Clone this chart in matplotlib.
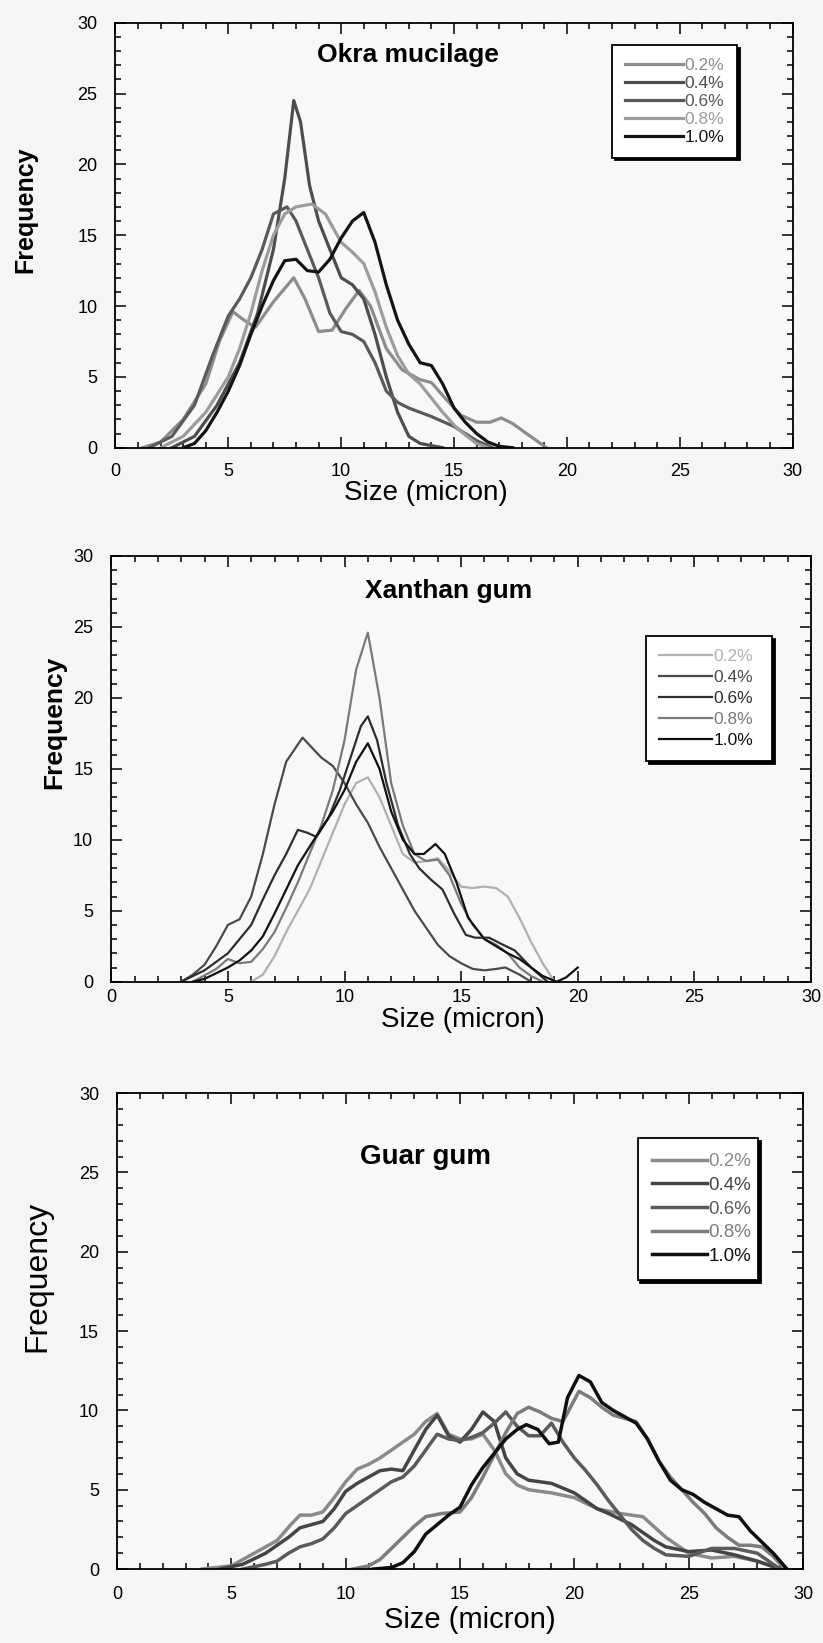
import matplotlib.pyplot as plt
from matplotlib.ticker import MultipleLocator

plt.rcParams['font.family'] = ['Liberation Sans', 'DejaVu Sans']

labels = ['0.2%', '0.4%', '0.6%', '0.8%', '1.0%']

# Okra mucilage
okra_x_02 = [1.2, 2.0, 3.0, 4.0, 4.6, 5.2, 5.7, 6.2, 7.0, 7.9, 8.4, 9.0, 9.6, 10.2, 10.8, 11.3, 12.0, 12.7, 13.5, 14.0, 14.6, 15.3, 16.0, 16.6, 17.1, 17.6, 18.3, 19.1]
okra_y_02 = [0.0, 0.4, 2.0, 4.5, 7.5, 9.6, 9.0, 8.5, 10.3, 12.0, 10.5, 8.2, 8.3, 9.8, 11.1, 10.0, 7.0, 5.5, 4.8, 4.6, 3.5, 2.3, 1.8, 1.8, 2.1, 1.7, 0.9, 0.0]
okra_x_04 = [2.5, 3.5, 4.5, 5.5, 6.3, 7.0, 7.5, 7.9, 8.2, 8.6, 9.0, 9.5, 10.0, 10.5, 11.0, 11.5, 12.0, 12.5, 13.0, 13.5, 14.5]
okra_y_04 = [0.0, 0.8, 3.0, 6.0, 9.5, 14.0, 19.0, 24.5, 23.0, 18.5, 16.0, 14.0, 12.0, 11.5, 10.5, 8.0, 5.0, 2.5, 0.8, 0.3, 0.0]
okra_x_06 = [1.5, 2.5, 3.5, 4.3, 5.0, 5.5, 6.0, 6.5, 7.0, 7.6, 8.0, 8.5, 9.0, 9.5, 10.0, 10.5, 11.0, 11.5, 12.0, 12.5, 13.0, 14.0, 15.0, 16.0, 16.7]
okra_y_06 = [0.0, 0.8, 3.0, 6.5, 9.3, 10.5, 12.0, 14.0, 16.5, 17.0, 16.0, 14.0, 12.0, 9.5, 8.2, 8.0, 7.5, 6.0, 4.0, 3.2, 2.8, 2.2, 1.5, 0.5, 0.0]
okra_x_08 = [2.0, 3.0, 4.0, 5.0, 5.5, 6.0, 6.5, 7.0, 7.5, 8.0, 8.7, 9.3, 10.0, 10.5, 11.0, 11.5, 12.0, 12.5, 13.0, 13.5, 14.0, 14.5, 15.0, 15.5, 16.0, 16.5]
okra_y_08 = [0.0, 0.8, 2.5, 5.0, 7.0, 9.5, 12.5, 15.0, 16.5, 17.0, 17.2, 16.5, 14.5, 13.8, 13.0, 11.0, 8.5, 6.5, 5.2, 4.5, 3.5, 2.5, 1.6, 0.9, 0.3, 0.0]
okra_x_10 = [3.0, 3.5, 4.0, 4.5, 5.0, 5.5, 6.0, 6.5, 7.0, 7.5, 8.0, 8.5, 9.0, 9.5, 10.0, 10.5, 11.0, 11.5, 12.0, 12.5, 13.0, 13.5, 14.0, 14.5, 15.0, 15.5, 16.0, 16.5, 17.0, 17.6]
okra_y_10 = [0.0, 0.3, 1.2, 2.5, 4.0, 5.8, 8.0, 10.0, 11.8, 13.2, 13.3, 12.5, 12.4, 13.3, 14.8, 16.0, 16.6, 14.5, 11.5, 9.0, 7.3, 6.0, 5.8, 4.5, 2.8, 1.8, 1.0, 0.4, 0.1, 0.0]

# Xanthan gum
xan_x_02 = [6.0, 6.5, 7.0, 7.5, 8.0, 8.5, 9.0, 9.5, 10.0, 10.5, 11.0, 11.5, 12.0, 12.5, 13.0, 13.5, 14.0, 14.5, 15.0, 15.5, 16.0, 16.5, 17.0, 17.5, 18.0, 18.5, 19.0]
xan_y_02 = [0.0, 0.5, 1.8, 3.5, 5.0, 6.5, 8.5, 10.5, 12.5, 14.0, 14.4, 13.0, 11.0, 9.0, 8.4, 8.5, 8.7, 7.8, 6.7, 6.6, 6.7, 6.6, 6.0, 4.5, 2.8, 1.3, 0.0]
xan_x_04 = [3.0, 3.5, 4.0, 4.5, 5.0, 5.5, 6.0, 6.5, 7.0, 7.5, 8.2, 8.6, 9.0, 9.5, 10.0, 10.5, 11.0, 11.5, 12.0, 12.5, 13.0, 13.5, 14.0, 14.5, 15.0, 15.5, 16.0, 16.5, 16.9, 17.5, 18.0]
xan_y_04 = [0.0, 0.5, 1.2, 2.5, 4.0, 4.4, 6.0, 9.0, 12.5, 15.5, 17.2, 16.5, 15.8, 15.2, 14.0, 12.5, 11.2, 9.5, 8.0, 6.5, 5.0, 3.8, 2.6, 1.8, 1.3, 0.9, 0.8, 0.9, 1.0, 0.5, 0.0]
xan_x_06 = [3.0, 4.0, 5.0, 6.0, 6.5, 7.0, 7.5, 8.0, 8.4, 8.8, 9.3, 9.8, 10.3, 10.7, 11.0, 11.4, 11.8, 12.3, 12.8, 13.2, 13.7, 14.2, 14.7, 15.2, 15.6, 16.2, 16.8, 17.3, 18.0, 18.7]
xan_y_06 = [0.0, 0.8, 2.0, 4.0, 5.8, 7.5, 9.0, 10.7, 10.5, 10.2, 11.5, 13.5, 16.0, 18.0, 18.7, 17.0, 14.0, 11.0, 9.0, 8.0, 7.2, 6.5, 4.8, 3.3, 3.1, 3.1, 2.6, 2.2, 1.0, 0.0]
xan_x_08 = [3.5, 4.5, 5.0, 5.5, 6.0, 6.5, 7.0, 7.5, 8.0, 8.5, 9.0, 9.5, 10.0, 10.5, 11.0, 11.5, 12.0, 12.5, 13.0, 13.5, 14.0, 14.5, 15.0, 15.5, 16.0, 16.5, 17.0, 17.5, 18.0, 18.5]
xan_y_08 = [0.0, 0.9, 1.6, 1.3, 1.4, 2.3, 3.5, 5.2, 7.0, 9.0, 11.0, 13.5, 17.0, 22.0, 24.6, 20.0, 14.0, 11.0, 9.0, 8.5, 8.6, 7.5, 5.5, 4.0, 3.0, 2.6, 2.0, 1.0, 0.4, 0.0]
xan_x_10 = [3.5, 4.0, 4.5, 5.0, 5.5, 6.0, 6.5, 7.0, 7.5, 8.0, 8.5, 9.0, 9.5, 10.0, 10.5, 11.0, 11.5, 12.0, 12.5, 13.0, 13.4, 13.9, 14.3, 14.8, 15.3, 16.0, 16.5, 17.0, 17.5, 18.0, 18.5, 19.1, 19.5, 20.0]
xan_y_10 = [0.0, 0.2, 0.6, 1.0, 1.5, 2.2, 3.2, 4.8, 6.5, 8.2, 9.5, 10.8, 12.0, 13.5, 15.5, 16.8, 15.0, 12.0, 10.0, 9.0, 9.0, 9.7, 9.0, 7.0, 4.5, 3.0, 2.5, 2.0, 1.6, 1.0, 0.4, 0.0, 0.3, 1.0]

# Guar gum
guar_x_02 = [3.7, 5.0, 6.0, 7.0, 7.6, 8.0, 8.5, 9.0, 9.5, 10.0, 10.5, 11.0, 11.5, 12.0, 12.5, 13.0, 13.5, 14.0, 14.5, 15.0, 15.5, 16.0, 16.5, 17.0, 17.5, 18.0, 19.0, 20.0, 21.0, 22.0, 23.0, 24.0, 25.0, 26.0, 27.0, 28.0, 29.0]
guar_y_02 = [0.0, 0.2, 1.0, 1.8, 2.8, 3.4, 3.4, 3.6, 4.5, 5.5, 6.3, 6.6, 7.0, 7.5, 8.0, 8.5, 9.3, 9.8, 8.5, 8.2, 8.2, 8.5, 7.5, 6.0, 5.3, 5.0, 4.8, 4.5, 3.8, 3.5, 3.3, 2.0, 1.0, 0.7, 0.8, 0.5, 0.0]
guar_x_04 = [4.5, 5.5, 6.5, 7.5, 8.0, 8.5, 9.0, 9.5, 10.0, 10.5, 11.0, 11.5, 12.0, 12.5, 13.0, 13.5, 14.0, 14.5, 15.0, 15.5, 16.0, 16.5, 17.0, 17.5, 18.0, 19.0, 20.0, 21.0, 21.5, 22.5, 23.5, 24.0, 25.0, 26.0, 27.0, 28.0, 29.0]
guar_y_04 = [0.0, 0.3, 1.0, 2.0, 2.6, 2.8, 3.0, 3.8, 4.9, 5.4, 5.8, 6.2, 6.3, 6.2, 7.5, 8.8, 9.7, 8.4, 8.0, 8.8, 9.9, 9.3, 7.0, 6.0, 5.6, 5.4, 4.8, 3.8, 3.5, 2.8, 1.8, 1.4, 1.1, 1.2, 0.9, 0.5, 0.0]
guar_x_06 = [5.5, 6.5, 7.0, 7.5, 8.0, 8.5, 9.0, 9.5, 10.0, 10.5, 11.0, 11.5, 12.0, 12.5, 13.0, 13.5, 14.0, 14.5, 15.0, 15.5, 16.0, 16.5, 17.0, 17.5, 18.0, 18.5, 19.0, 19.5, 20.0, 20.5, 21.0, 21.5, 22.0, 22.5, 23.0, 23.5, 24.0, 25.0, 26.0, 27.0, 28.0, 29.0]
guar_y_06 = [0.0, 0.3, 0.5, 1.0, 1.4, 1.6, 1.9, 2.6, 3.5, 4.0, 4.5, 5.0, 5.5, 5.8, 6.5, 7.5, 8.5, 8.2, 8.1, 8.3, 8.6, 9.2, 9.9, 9.0, 8.4, 8.4, 9.2, 8.0, 7.0, 6.2, 5.3, 4.3, 3.4, 2.5, 1.8, 1.3, 0.9, 0.8, 1.3, 1.3, 1.0, 0.0]
guar_x_08 = [10.3, 11.0, 11.5, 12.0, 12.5, 13.0, 13.5, 14.2, 15.0, 15.5, 16.0, 16.5, 17.0, 17.5, 18.0, 18.5, 19.0, 19.5, 20.2, 20.7, 21.2, 21.7, 22.2, 22.7, 23.2, 23.7, 24.2, 24.7, 25.2, 25.7, 26.2, 26.7, 27.2, 27.7, 28.2, 28.7, 29.2]
guar_y_08 = [0.0, 0.2, 0.6, 1.3, 2.0, 2.7, 3.3, 3.5, 3.6, 4.5, 5.8, 7.2, 8.6, 9.8, 10.2, 9.9, 9.5, 9.3, 11.2, 10.8, 10.2, 9.7, 9.5, 9.3, 8.2, 6.8, 5.8, 5.0, 4.2, 3.5, 2.6, 2.0, 1.5, 1.5, 1.4, 0.8, 0.0]
guar_x_10 = [11.2, 12.0, 12.5, 13.0, 13.5, 14.0, 14.5, 15.0, 15.5, 16.0, 16.5, 17.0, 17.5, 17.9, 18.4, 18.9, 19.3, 19.7, 20.2, 20.7, 21.2, 21.7, 22.2, 22.7, 23.2, 23.7, 24.2, 24.7, 25.2, 25.7, 26.2, 26.7, 27.2, 27.7, 28.2, 28.7, 29.3]
guar_y_10 = [0.0, 0.1, 0.4, 1.1, 2.2, 2.8, 3.4, 3.9, 5.3, 6.4, 7.3, 8.2, 8.8, 9.1, 8.8, 7.9, 8.0, 10.8, 12.2, 11.8, 10.5, 10.0, 9.6, 9.2, 8.2, 6.8, 5.6, 5.0, 4.7, 4.2, 3.8, 3.4, 3.3, 2.4, 1.7, 1.0, 0.0]

okra_colors = ['#8c8c8c', '#4d4d4d', '#5a5a5a', '#9c9c9c', '#141414']
xan_colors = ['#b0b0b0', '#4a4a4a', '#2e2e2e', '#7a7a7a', '#111111']
guar_colors = ['#8a8a8a', '#454545', '#5a5a5a', '#7c7c7c', '#101010']

panels = [
    dict(xs=[okra_x_02, okra_x_04, okra_x_06, okra_x_08, okra_x_10],
         ys=[okra_y_02, okra_y_04, okra_y_06, okra_y_08, okra_y_10],
         colors=okra_colors, lw=2.3, title='Okra mucilage', title_xy=(12.96, 27.7), title_size=19,
         rect=[0.1403, 0.7275, 0.8227, 0.2587],
         leg=(0.733, 0.673, 0.185, 0.2745),
         leg_kw=dict(fontsize=12.5, handlelength=3.35, labelspacing=0.16, borderpad=0.74),
         ylab=dict(size=18, weight='bold', pos=(-0.116, 0.56)),
         xlab=dict(size=20, pos=(0.459, -0.076)), xpad=11),
    dict(xs=[xan_x_02, xan_x_04, xan_x_06, xan_x_08, xan_x_10],
         ys=[xan_y_02, xan_y_04, xan_y_06, xan_y_08, xan_y_10],
         colors=xan_colors, lw=1.6, title='Xanthan gum', title_xy=(14.48, 27.5), title_size=19,
         rect=[0.1352, 0.4025, 0.8502, 0.2591],
         leg=(0.764, 0.505, 0.18, 0.307),
         leg_kw=dict(fontsize=12.5, handlelength=3.05, labelspacing=0.34, borderpad=0.75),
         ylab=dict(size=19, weight='bold', pos=(-0.065, 0.61)),
         xlab=dict(size=20, pos=(0.503, -0.059)), xpad=5),
    dict(xs=[guar_x_02, guar_x_04, guar_x_06, guar_x_08, guar_x_10],
         ys=[guar_y_02, guar_y_04, guar_y_06, guar_y_08, guar_y_10],
         colors=guar_colors, lw=2.5, title='Guar gum', title_xy=(13.47, 25.97), title_size=20,
         rect=[0.1422, 0.0450, 0.8335, 0.2897],
         leg=(0.759, 0.607, 0.176, 0.298),
         leg_kw=dict(fontsize=13.5, handlelength=2.9, labelspacing=0.35, borderpad=0.79),
         ylab=dict(size=23, weight='normal', pos=(-0.094, 0.615)),
         xlab=dict(size=21, pos=(0.515, -0.078)), xpad=12),
]

fig = plt.figure(figsize=(8.23, 16.43), dpi=100, facecolor='#f5f5f5')

for p in panels:
    ax = fig.add_axes(p['rect'])
    ax.set_facecolor('#f8f8f8')
    for x, y, c, lab in zip(p['xs'], p['ys'], p['colors'], labels):
        ax.plot(x, y, color=c, lw=p['lw'], label=lab, solid_joinstyle='round')

    ax.set_xlim(0, 30)
    ax.set_ylim(0, 30)
    ax.xaxis.set_major_locator(MultipleLocator(5))
    ax.xaxis.set_minor_locator(MultipleLocator(1))
    ax.yaxis.set_major_locator(MultipleLocator(5))
    ax.yaxis.set_minor_locator(MultipleLocator(1))
    ax.tick_params(which='both', direction='in', top=True, right=True, width=1.1)
    ax.tick_params(which='major', length=8, labelsize=13)
    ax.tick_params(which='minor', length=4)
    ax.tick_params(axis='y', pad=13)
    ax.tick_params(axis='x', pad=p['xpad'])
    for s in ax.spines.values():
        s.set_linewidth(1.3)

    ax.text(p['title_xy'][0], p['title_xy'][1], p['title'], ha='center', va='center',
            fontsize=p['title_size'], fontweight='bold')

    ax.set_ylabel('Frequency', fontsize=p['ylab']['size'], fontweight=p['ylab']['weight'])
    ax.yaxis.set_label_coords(*p['ylab']['pos'])
    ax.set_xlabel('Size (micron)', fontsize=p['xlab']['size'])
    ax.xaxis.set_label_coords(*p['xlab']['pos'])

    leg = ax.legend(loc='upper left', bbox_to_anchor=p['leg'], mode='expand',
                    borderaxespad=0, handletextpad=0.1, fancybox=False,
                    edgecolor='black', framealpha=1, facecolor='white',
                    shadow={'color': 'black', 'alpha': 1}, labelcolor='linecolor',
                    **p['leg_kw'])
    leg.get_frame().set_linewidth(1.3)

fig.savefig('out.png', dpi=100, facecolor=fig.get_facecolor())
